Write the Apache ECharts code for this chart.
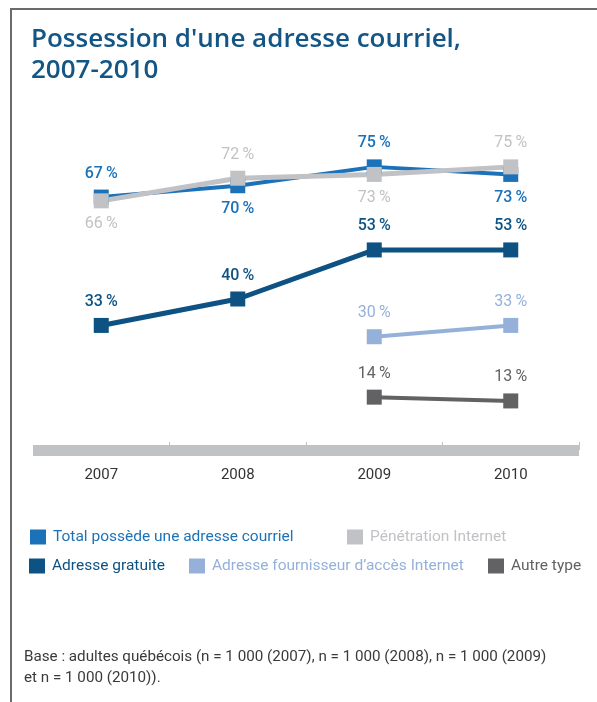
<!DOCTYPE html>
<html>
<head>
    <meta charset="utf-8">
    <title>courriel</title>
    <style type="text/css">
        * {
            margin: 0;
            padding: 0;
        }

        #chart {
            width: 597px;
            height: 702px;
            background: #fff;
        }
    </style>
</head>
<body>

<div id="chart"></div>

<script src="https://cdn.jsdelivr.net/npm/echarts@6/dist/echarts.min.js"></script>
<script type="text/javascript">

    // données
    var annees = ['2007', '2008', '2009', '2010'];
    var totalCourriel = [67, 70, 75, 73];
    var penetration = [66, 72, 73, 75];
    var adresseGratuite = [33, 40, 53, 53];
    var adresseFournisseur = [null, null, 30, 33];
    var autreType = [null, null, 14, 13];

    var noms = [
        'Total possède une adresse courriel',
        'Pénétration Internet',
        'Adresse gratuite',
        'Adresse fournisseur d’accès Internet',
        'Autre type'
    ];

    var couleurs = ['#1b72b9', '#c1c2c5', '#0d5283', '#95b1d9', '#626264'];

    var police = 'Roboto, sans-serif';

    // position des étiquettes (haut / bas) pour les deux séries qui se croisent
    var posTotal = ['top', 'bottom', 'top', 'bottom'];
    var posPenetration = ['bottom', 'top', 'bottom', 'top'];

    function avecPositions(valeurs, positions) {
        return valeurs.map(function (v, i) {
            return {value: v, label: {position: positions[i]}};
        });
    }

    function serie(nom, donnees, couleur, epaisseur, gras) {
        return {
            name: nom,
            type: 'line',
            data: donnees,
            symbol: 'rect',
            symbolSize: 15,
            color: couleur,
            lineStyle: {width: epaisseur, color: couleur},
            itemStyle: {color: couleur},
            connectNulls: false,
            animation: false,
            label: {
                show: true,
                position: 'top',
                distance: 8,
                formatter: '{c}\u2009%',
                color: couleur,
                fontFamily: police,
                fontSize: 16,
                fontWeight: gras ? 500 : 'normal'
            }
        };
    }

    function legende(nom, couleur, left, top) {
        return {
            data: [nom],
            left: left,
            top: top,
            padding: 0,
            icon: 'rect',
            itemWidth: 16,
            itemHeight: 15,
            itemGap: 0,
            selectedMode: false,
            textStyle: {
                color: couleur,
                fontFamily: police,
                fontSize: 15.5,
                padding: [0, 0, 0, 2]
            }
        };
    }

    var myChart = echarts.init(document.getElementById('chart'));

    var option = {
        backgroundColor: '#fff',
        title: {
            text: 'Possession d\'une adresse courriel,\n2007-2010',
            left: 31,
            top: 24,
            padding: 0,
            textStyle: {
                color: '#135685',
                fontFamily: '"Open Sans", sans-serif',
                fontWeight: 600,
                fontSize: 26,
                lineHeight: 31
            }
        },
        grid: {
            left: 33,
            right: 18,
            top: 148,
            bottom: 252
        },
        xAxis: {
            type: 'category',
            data: annees,
            boundaryGap: true,
            axisLine: {lineStyle: {color: '#c1c2c5', width: 11, cap: 'butt'}},
            axisTick: {
                show: true,
                inside: true,
                length: 8,
                interval: function (index) {
                    return index > 0 && index < annees.length;
                },
                lineStyle: {color: '#c1c2c5', width: 1}
            },
            axisLabel: {
                color: '#333',
                fontFamily: police,
                fontSize: 15,
                margin: 18
            }
        },
        yAxis: {
            type: 'value',
            min: 0,
            max: 80,
            show: false
        },
        legend: [
            legende(noms[0], couleurs[0], 30, 529),
            legende(noms[1], couleurs[1], 347, 529),
            legende(noms[2], couleurs[2], 29, 558),
            legende(noms[3], couleurs[3], 189, 558),
            legende(noms[4], couleurs[4], 488, 558)
        ],
        graphic: [
            {
                type: 'line',
                shape: {x1: 10, y1: 9, x2: 597, y2: 9},
                style: {stroke: '#6b6b6b', lineWidth: 2}
            },
            {
                type: 'line',
                shape: {x1: 11, y1: 8, x2: 11, y2: 702},
                style: {stroke: '#6b6b6b', lineWidth: 2}
            },
            {
                type: 'text',
                left: 24,
                top: 647,
                style: {
                    text: 'Base : adultes québécois (n = 1 000 (2007), n = 1 000 (2008), n = 1 000 (2009)\net n = 1 000 (2010)).',
                    fill: '#3a3a3a',
                    font: '15.2px ' + police,
                    lineHeight: 21
                }
            }
        ],
        series: [
            serie(noms[0], avecPositions(totalCourriel, posTotal), couleurs[0], 4, true),
            serie(noms[1], avecPositions(penetration, posPenetration), couleurs[1], 5, false),
            serie(noms[2], adresseGratuite, couleurs[2], 5, true),
            serie(noms[3], adresseFournisseur, couleurs[3], 4, false),
            serie(noms[4], autreType, couleurs[4], 4, false)
        ]
    };

    myChart.setOption(option);
</script>
</body>
</html>
